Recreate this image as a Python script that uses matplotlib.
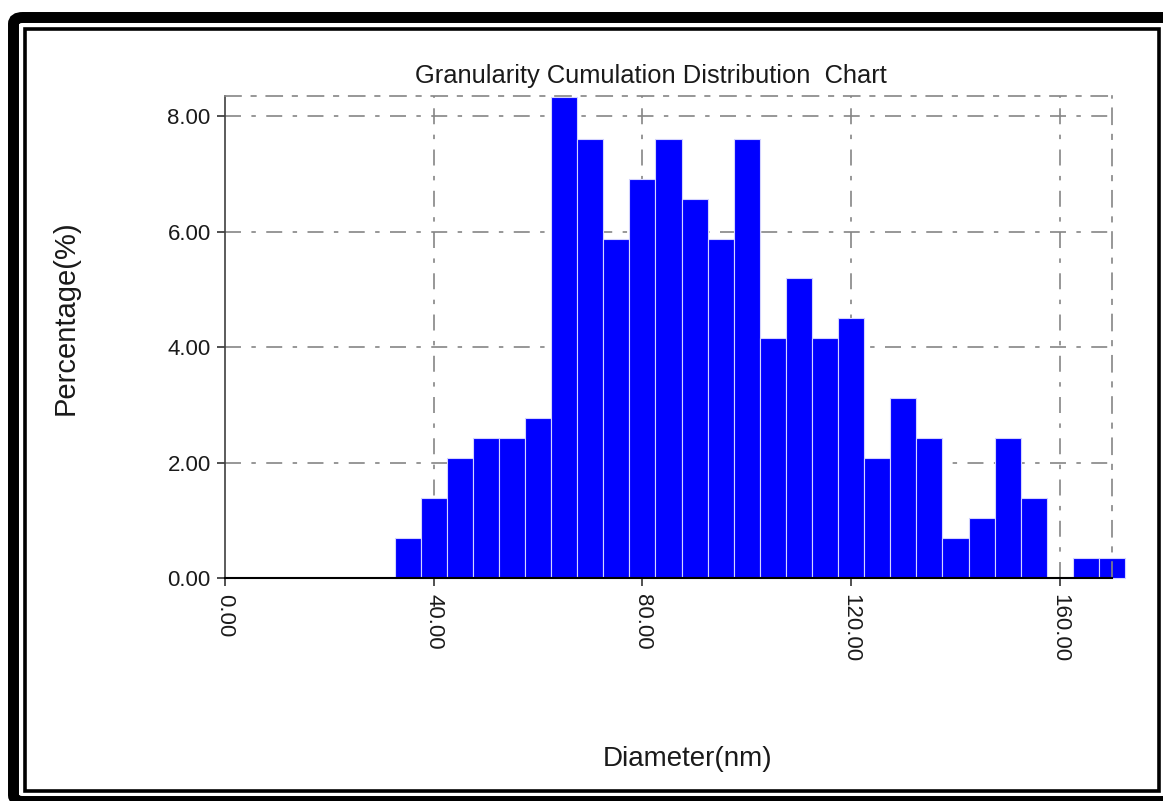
import matplotlib
matplotlib.use("Agg")
import matplotlib.pyplot as plt
from matplotlib.patches import FancyBboxPatch, Rectangle
from matplotlib.ticker import FormatStrFormatter

plt.rcParams['font.family'] = ['Liberation Sans', 'DejaVu Sans']
plt.rcParams['lines.scale_dashes'] = False

# ---- data ----
bin_centers = [35, 40, 45, 50, 55, 60, 65, 70, 75, 80, 85, 90, 95, 100,
               105, 110, 115, 120, 125, 130, 135, 140, 145, 150, 155, 160, 165, 170]
percentages = [0.69, 1.38, 2.08, 2.42, 2.42, 2.77, 8.34, 7.61, 5.88, 6.92, 7.61, 6.57, 5.88, 7.61,
               4.15, 5.19, 4.15, 4.50, 2.08, 3.11, 2.42, 0.69, 1.04, 2.42, 1.38, 0.0, 0.35, 0.35]
bin_width = 5
x_ticks = [0, 40, 80, 120, 160]
y_ticks = [0, 2, 4, 6, 8]

title = "Granularity Cumulation Distribution  Chart"
xlabel = "Diameter(nm)"
ylabel = "Percentage(%)"

W, H = 1163, 801
fig = plt.figure(figsize=(W / 100, H / 100), dpi=100)
fig.patch.set_facecolor('white')


def fx(px):
    return px / W


def fy(py):
    return 1 - py / H


# axes placement (pixels)
ax_l, ax_r, ax_t, ax_b = 225, 1112, 96, 578
ax = fig.add_axes([fx(ax_l), fy(ax_b), (ax_r - ax_l) / W, (ax_b - ax_t) / H])
ax.set_xlim(0, 170)
ax.set_ylim(0, 8.35)

grid_color = '#858585'
dash = (0, (11.5, 7.5, 3.2, 7.5))
ax.set_axisbelow(True)
for yv in y_ticks[1:]:
    ax.axhline(yv, color=grid_color, lw=1.2, linestyle=dash, zorder=0)
for xv in x_ticks[1:]:
    ax.axvline(xv, color=grid_color, lw=1.2, linestyle=dash, zorder=0)

ax.bar(bin_centers, percentages, width=bin_width, color='#0000FF',
       edgecolor='#d4d4ff', linewidth=0.8, clip_on=False, zorder=2)

# spines
ax.spines['left'].set_color('#404040')
ax.spines['left'].set_linewidth(1.2)
ax.spines['bottom'].set_color('black')
ax.spines['bottom'].set_linewidth(1.5)
ax.spines['bottom'].set_zorder(3)
for s in ['top', 'right']:
    ax.spines[s].set_color(grid_color)
    ax.spines[s].set_linewidth(1.2)
    ax.spines[s].set_linestyle(dash)

ax.set_xticks(x_ticks)
ax.set_yticks(y_ticks)
ax.xaxis.set_major_formatter(FormatStrFormatter('%.2f'))
ax.yaxis.set_major_formatter(FormatStrFormatter('%.2f'))
ax.tick_params(axis='both', direction='out', length=5.8, width=1.1,
               color='#202020', labelsize=16, labelcolor='#1a1a1a')
ax.tick_params(axis='x', pad=5.5, labelrotation=-90)
ax.tick_params(axis='y', pad=4.5)
for lab in ax.get_xticklabels():
    lab.set_va('top')
    lab.set_ha('center')

# titles / labels
fig.text(fx(651), fy(83.5), title, ha='center', va='baseline', fontsize=18.4, color='#1a1a1a')
fig.text(fx(688), fy(766), xlabel, ha='center', va='baseline', fontsize=20, color='#1a1a1a')
fig.text(fx(66), fy(318), ylabel, ha='center', va='center', rotation=90, fontsize=21, color='#1a1a1a')

# window frame borders
outer = FancyBboxPatch((fx(13.5), fy(801.5)), fx(1180) - fx(13.5), fy(17.5) - fy(801.5),
                       boxstyle="round,pad=0,rounding_size=0.008",
                       transform=fig.transFigure, facecolor='none', edgecolor='black',
                       linewidth=7.9, clip_on=False)
fig.add_artist(outer)
inner = Rectangle((fx(25), fy(791)), fx(1158.5) - fx(25), fy(28.5) - fy(791),
                  transform=fig.transFigure, facecolor='none', edgecolor='black',
                  linewidth=2.6, clip_on=False)
fig.add_artist(inner)

fig.savefig('out.png', dpi=100, facecolor='white')
